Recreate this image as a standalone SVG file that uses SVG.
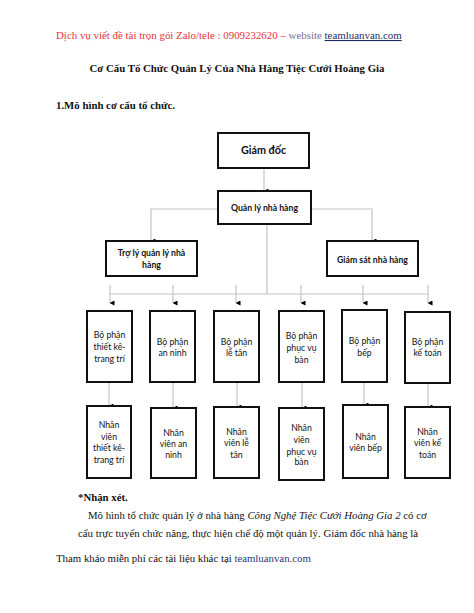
<svg xmlns="http://www.w3.org/2000/svg" width="474" height="613" viewBox="0 0 474 613">
<defs>
<marker id="ah" markerWidth="5" markerHeight="5" refX="2.5" refY="4.5" orient="auto-start-reverse" markerUnits="userSpaceOnUse" viewBox="0 0 5 5">
<path d="M0,0 L5,0 L2.5,5 Z" fill="#000"/>
</marker>
</defs>
<style>
.bg{fill:#fff}
.box{fill:#fff;stroke:#111;stroke-width:2}
.ln{fill:none;stroke:#c4c4c4;stroke-width:1.2}
.arr{fill:none;stroke:#c4c4c4;stroke-width:1.2;marker-end:url(#ah)}
.nt{font-family:Lato,"Noto Sans",sans-serif;font-size:8.7px;fill:#111;text-anchor:middle}
.b{font-weight:bold}
.doc{font-family:"Liberation Serif","Times New Roman",serif;font-size:10.8px;fill:#111}
</style>
<rect class="bg" x="0" y="0" width="474" height="613"/>
<g id="header">
<text class="doc" x="56" y="39" style="font-size:10.9px"><tspan fill="#e8313a">Dịch vụ viết đề tài trọn gói Zalo/tele : 0909232620 –</tspan><tspan fill="#7a6fa0"> website </tspan><tspan fill="#1f2a6b" text-decoration="underline">teamluanvan.com</tspan></text>
<text class="doc b" x="237" y="72" text-anchor="middle" style="font-size:10.8px">Cơ Cấu Tổ Chức Quản Lý Của Nhà Hàng Tiệc Cưới Hoàng Gia</text>
<text class="doc b" x="56" y="109" style="font-size:10.8px">1.Mô hình cơ cấu tổ chức.</text>
</g>
<g id="connectors">
<line class="arr" x1="264" y1="168" x2="264" y2="191"/>
<polyline class="arr" points="218,209 151,209 151,241"/>
<polyline class="arr" points="311,209 372,209 372,241"/>
<line class="ln" x1="267" y1="224" x2="267" y2="294"/>
<line class="ln" x1="110" y1="294" x2="428" y2="294"/>
<line class="arr" x1="110" y1="285" x2="110" y2="303"/>
<line class="arr" x1="173" y1="285" x2="173" y2="303"/>
<line class="arr" x1="236" y1="285" x2="236" y2="303"/>
<line class="arr" x1="301" y1="285" x2="301" y2="303"/>
<line class="arr" x1="363" y1="285" x2="363" y2="303"/>
<line class="arr" x1="428" y1="285" x2="428" y2="303"/>
<line class="arr" x1="109" y1="382" x2="109" y2="406"/>
<line class="arr" x1="173" y1="382" x2="173" y2="408"/>
<line class="arr" x1="237" y1="382" x2="237" y2="407"/>
<line class="arr" x1="302" y1="382" x2="302" y2="408"/>
<line class="arr" x1="364" y1="382" x2="364" y2="405"/>
<line class="arr" x1="428" y1="383" x2="428" y2="407"/>
</g>
<g id="giam-doc">
<rect class="box" x="218" y="133" width="91" height="35"/>
<text class="nt b" x="263.5" y="154" style="font-size:10.8px">Giám đốc</text>
</g>
<g id="quan-ly">
<rect class="box" x="218" y="191" width="93" height="33"/>
<text class="nt b" x="264.5" y="211">Quản lý nhà hàng</text>
</g>
<g id="tro-ly">
<rect class="box" x="106" y="241" width="91" height="35"/>
<text class="nt b" x="151.5" y="256">Trợ lý quản lý nhà</text>
<text class="nt b" x="151.5" y="268">hàng</text>
</g>
<g id="giam-sat">
<rect class="box" x="327" y="241" width="91" height="35"/>
<text class="nt b" x="372.5" y="263">Giám sát nhà hàng</text>
</g>
<g id="bp-thiet-ke">
<rect class="box" x="87" y="311" width="45" height="71"/>
<text class="nt" x="109.5" y="338">Bộ phận</text>
<text class="nt" x="109.5" y="350">thiết kê-</text>
<text class="nt" x="109.5" y="362">trang trí</text>
</g>
<g id="bp-an-ninh">
<rect class="box" x="150" y="311" width="45" height="71"/>
<text class="nt" x="172.5" y="345">Bộ phận</text>
<text class="nt" x="172.5" y="356">an ninh</text>
</g>
<g id="bp-le-tan">
<rect class="box" x="214" y="311" width="45" height="71"/>
<text class="nt" x="236.5" y="345">Bộ phận</text>
<text class="nt" x="236.5" y="356">lễ tân</text>
</g>
<g id="bp-phuc-vu">
<rect class="box" x="279" y="311" width="45" height="71"/>
<text class="nt" x="301.5" y="339">Bộ phận</text>
<text class="nt" x="301.5" y="351">phục vụ</text>
<text class="nt" x="301.5" y="363">bàn</text>
</g>
<g id="bp-bep">
<rect class="box" x="342" y="310" width="45" height="72"/>
<text class="nt" x="364.5" y="344">Bộ phận</text>
<text class="nt" x="364.5" y="356">bếp</text>
</g>
<g id="bp-ke-toan">
<rect class="box" x="405" y="312" width="45" height="71"/>
<text class="nt" x="427.5" y="345">Bộ phận</text>
<text class="nt" x="427.5" y="356">kế toán</text>
</g>
<g id="nv-thiet-ke">
<rect class="box" x="87" y="406" width="44" height="72"/>
<text class="nt" x="109" y="428">Nhân</text>
<text class="nt" x="109" y="440">viên</text>
<text class="nt" x="109" y="451">thiết kê-</text>
<text class="nt" x="109" y="463">trang trí</text>
</g>
<g id="nv-an-ninh">
<rect class="box" x="151" y="408" width="45" height="70"/>
<text class="nt" x="173.5" y="436">Nhân</text>
<text class="nt" x="173.5" y="447">viên an</text>
<text class="nt" x="173.5" y="458">ninh</text>
</g>
<g id="nv-le-tan">
<rect class="box" x="214" y="407" width="45" height="71"/>
<text class="nt" x="236.5" y="435">Nhân</text>
<text class="nt" x="236.5" y="446">viên lễ</text>
<text class="nt" x="236.5" y="458">tân</text>
</g>
<g id="nv-phuc-vu">
<rect class="box" x="279" y="408" width="45" height="72"/>
<text class="nt" x="301.5" y="431">Nhân</text>
<text class="nt" x="301.5" y="443">viên</text>
<text class="nt" x="301.5" y="455">phục vụ</text>
<text class="nt" x="301.5" y="465">bàn</text>
</g>
<g id="nv-bep">
<rect class="box" x="343" y="405" width="45" height="73"/>
<text class="nt" x="365.5" y="440">Nhân</text>
<text class="nt" x="365.5" y="451">viên bếp</text>
</g>
<g id="nv-ke-toan">
<rect class="box" x="405" y="407" width="45" height="71"/>
<text class="nt" x="427.5" y="435">Nhân</text>
<text class="nt" x="427.5" y="446">viên kế</text>
<text class="nt" x="427.5" y="458">toán</text>
</g>
<g id="body">
<text class="doc b" x="78" y="501">*Nhận xét.</text>
<text class="doc" x="88" y="519">Mô hình tổ chức quản lý ở nhà hàng <tspan font-style="italic">Công Nghệ Tiệc Cưới Hoàng Gia 2</tspan> có cơ</text>
<text class="doc" x="78" y="537">cấu trực tuyến chức năng, thực hiện chế độ một quản lý. Giám đốc nhà hàng là</text>
<text class="doc" x="56" y="562">Tham khảo miễn phí các tài liệu khác tại <tspan fill="#1f3a7a">teamluanvan.com</tspan></text>
</g>
</svg>
